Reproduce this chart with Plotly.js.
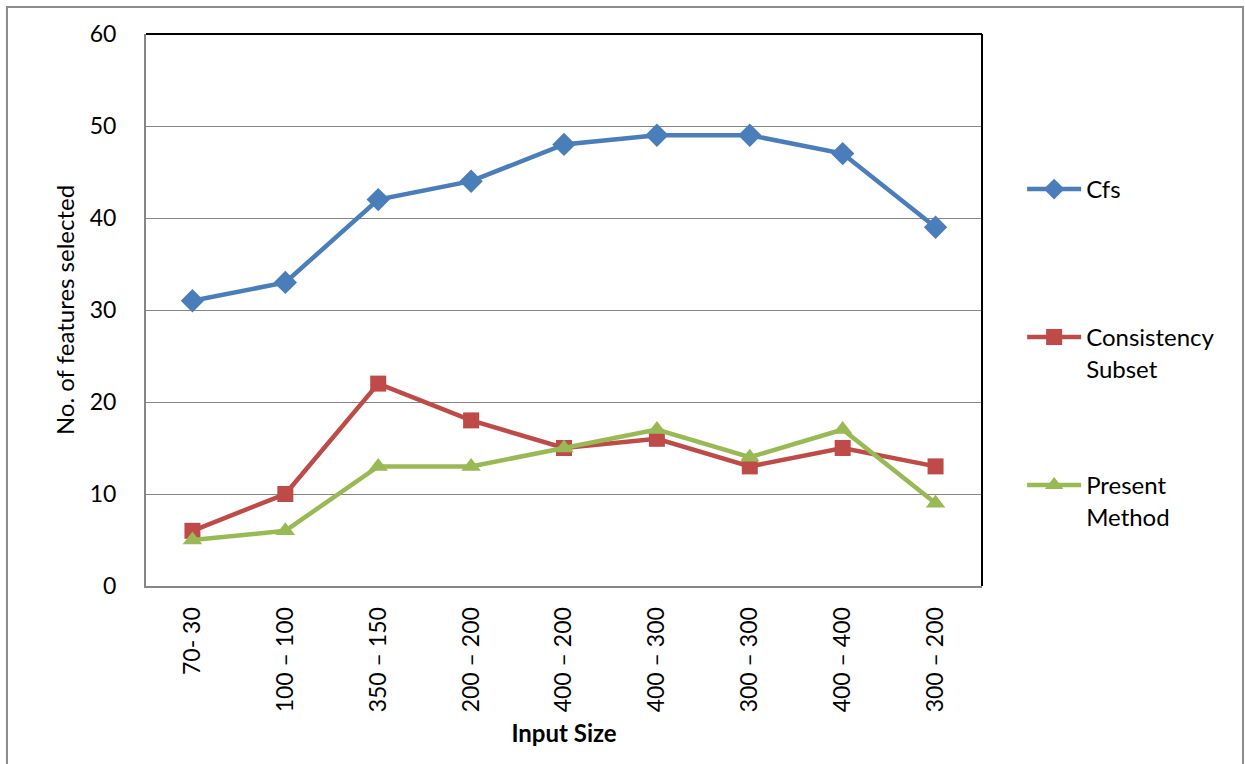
<!DOCTYPE html>
<html>
<head>
<meta charset="utf-8">
<script src="https://cdn.plot.ly/plotly-3.0.1.min.js"></script>
<style>
  html, body { margin: 0; padding: 0; background: #fff; }
  #chart { width: 1245px; height: 764px; }
</style>
</head>
<body>
<div id="chart"></div>
<script>
// Input sizes (category labels along x)
const inputSizes = ["70- 30", "100 – 100", "350 – 150", "200 – 200", "400 – 200",
                    "400 – 300", "300 – 300", "400 – 400", "300 – 200"];

// Number of features selected by each method
const cfsValues = [31, 33, 42, 44, 48, 49, 49, 47, 39];
const consistencyValues = [6, 10, 22, 18, 15, 16, 13, 15, 13];
const presentValues = [5, 6, 13, 13, 15, 17, 14, 17, 9];

const seriesNames = ["Cfs", "Consistency<br>Subset", "Present<br>Method"];

const FONT = "Lato, Open Sans, DejaVu Sans, sans-serif";
const FS_TICK = 23;
const FS_TEXT = 24;

function series(name, values, color, symbol, size, legendId) {
  return {
    type: "scatter",
    mode: "lines+markers",
    name: name,
    x: inputSizes,
    y: values,
    legend: legendId,
    line: { color: color, width: 4.5 },
    marker: { color: color, symbol: symbol, size: size, line: { width: 0 } }
  };
}

const traces = [
  series(seriesNames[0], cfsValues, "#4A7EBB", "diamond", 18, "legend"),
  series(seriesNames[1], consistencyValues, "#BE4B48", "square", 16, "legend2"),
  series(seriesNames[2], presentValues, "#98B954", "triangle-up", 17, "legend3")
];

function legendBox(yPaper) {
  return {
    x: 1.048, y: yPaper, xanchor: "left", yanchor: "top",
    valign: "top",
    font: { family: FONT, size: FS_TEXT, color: "#000" },
    bgcolor: "rgba(0,0,0,0)",
    itemwidth: 54
  };
}

// legend rows: first-line centres at about y = 190, 338, 486 px
const plotTop = 34, plotH = 552;
function rowY(px) { return 1 - (px - 23 - plotTop) / plotH; }

const layout = {
  width: 1245,
  height: 764,
  margin: { l: 146, r: 263, t: 34, b: 178 },
  paper_bgcolor: "#ffffff",
  plot_bgcolor: "#ffffff",
  font: { family: FONT, size: FS_TEXT, color: "#000" },
  showlegend: true,
  legend: legendBox(rowY(190)),
  legend2: legendBox(rowY(338)),
  legend3: legendBox(rowY(486)),
  xaxis: {
    type: "category",
    range: [-0.5, 8.5],
    tickangle: -90,
    showline: true,
    linecolor: "#868686",
    linewidth: 2,
    showgrid: false,
    ticks: "",
    ticklabelstandoff: 10,
    tickfont: { family: FONT, size: FS_TICK },
    title: { text: "<b>Input Size</b>", font: { family: FONT, size: FS_TEXT }, standoff: 14 },
    fixedrange: true
  },
  yaxis: {
    range: [0, 60],
    dtick: 10,
    showline: true,
    linecolor: "#868686",
    linewidth: 2,
    showgrid: true,
    gridcolor: "#868686",
    gridwidth: 1,
    zeroline: false,
    ticks: "",
    ticklabelstandoff: 23,
    tickfont: { family: FONT, size: FS_TICK },
    title: { text: "No. of features selected", font: { family: FONT, size: FS_TEXT }, standoff: 8 },
    fixedrange: true
  },
  shapes: [
    // plot-area border on the top and right
    { type: "line", xref: "paper", yref: "paper", x0: 0, x1: 1, y0: 1, y1: 1,
      line: { color: "#000", width: 2 } },
    { type: "line", xref: "paper", yref: "paper", x0: 1, x1: 1, y0: 0, y1: 1,
      line: { color: "#000", width: 2 } },
    // outer chart frame
    { type: "rect", xref: "paper", yref: "paper",
      x0: -0.1663, x1: 1.3122, y0: -0.34, y1: 1.049,
      line: { color: "#8c8c8c", width: 2 }, layer: "below" }
  ]
};

Plotly.newPlot("chart", traces, layout, { displayModeBar: false, staticPlot: true });
</script>
</body>
</html>
